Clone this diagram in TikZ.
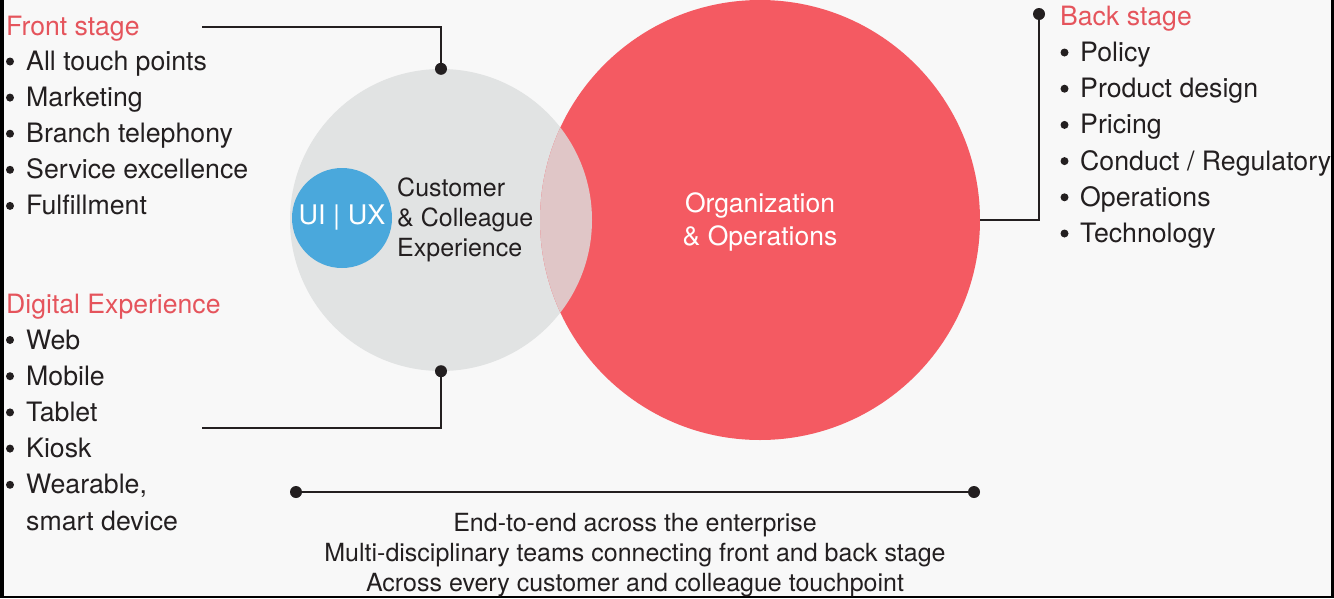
\documentclass[tikz,border=0pt]{standalone}
\usepackage{fontspec}
\setmainfont{TeX Gyre Heros}
\usetikzlibrary{positioning}

\definecolor{bgcol}{HTML}{F8F8F8}
\definecolor{ringcol}{HTML}{E1E3E3}
\definecolor{orgcol}{HTML}{F45A62}
\definecolor{overcol}{HTML}{E0C6C7}
\definecolor{uxcol}{HTML}{4AA8DC}
\definecolor{headcol}{HTML}{E5545C}
\definecolor{inkcol}{HTML}{231F20}

\begin{document}
\begin{tikzpicture}[x=1pt,y=-1pt,
    wire/.style={draw=inkcol,line width=2.2pt},
    head/.style={anchor=base west,inner sep=0pt,text=headcol,font=\fontsize{26.6}{32}\selectfont},
    item/.style={anchor=base west,inner sep=0pt,text=inkcol,font=\fontsize{26.7}{32}\selectfont}]
    % frame and background
    \fill[black] (0,0) rectangle (1334,598);
    \fill[bgcol] (4,0) rectangle (1331,596);
    \useasboundingbox (0,0) rectangle (1334,598);

    % circles
    \node[circle,fill=ringcol,minimum size=302pt,inner sep=0pt] (cx) at (441,220) {};
    \node[circle,fill=orgcol,minimum size=440pt,inner sep=0pt] (org) at (760,220) {};
    \begin{scope}
        \clip (cx.center) circle (151pt);
        \fill[overcol] (org.center) circle (220pt);
    \end{scope}
    \node[align=center,text=white,font=\fontsize{26.5}{33}\selectfont] (orgtext) at (760,222) {Organization\\\& Operations};
    \node[circle,fill=uxcol,minimum size=100pt,inner sep=0pt,text=white,font=\fontsize{27}{32}\selectfont] (ux) at (342,218) {UI | UX};
    \node[anchor=west,align=left,inner sep=0pt,text=inkcol,font=\fontsize{25}{30}\selectfont] (cce) at (397,219.6) {Customer\\\& Colleague\\Experience};

    % front stage
    \node[head] (fs) at (6,35) {Front stage};
    \foreach \t [count=\i] in {All touch points, Marketing, Branch telephony, Service excellence, Fulfillment}{
        \node[item] (front\i) at (26,{70.5+36.1*(\i-1)}) {\t};
        \fill[inkcol] (front\i.base west) ++(-16pt,9pt) circle (4pt);
    }

    % digital experience
    \node[head] (dx) at (6,313) {Digital Experience};
    \foreach \t [count=\i] in {Web, Mobile, Tablet, Kiosk, {Wearable,}}{
        \node[item] (dig\i) at (26,{349+36.2*(\i-1)}) {\t};
        \fill[inkcol] (dig\i.base west) ++(-16pt,9pt) circle (4pt);
    }
    \node[item] (dig6) at (26,530) {smart device};

    % back stage
    \node[head] (bs) at (1060,25) {Back stage};
    \foreach \t [count=\i] in {Policy, Product design, Pricing, Conduct / Regulatory, Operations, Technology}{
        \node[item] (back\i) at (1080,{61.5+36.2*(\i-1)}) {\t};
        \fill[inkcol] (back\i.base west) ++(-15.5pt,9pt) circle (4pt);
    }

    % connectors
    \coordinate (fsl) at (202,27);
    \coordinate (dxl) at (202,428);
    \coordinate (bsd) at (1039,14);
    \coordinate (spanl) at (296,492);
    \coordinate (spanr) at (974,492);
    \draw[wire] (fsl) -| (cx.north);
    \draw[wire] (dxl) -| (cx.south);
    \draw[wire] (org.east) -| (bsd);
    \draw[wire] (spanl) -- (spanr);
    \foreach \p in {cx.north, cx.south, bsd, spanl, spanr}
        \fill[inkcol] (\p) circle (6pt);

    \node[align=center,text=inkcol,font=\fontsize{25}{30}\selectfont] (span) at (635,555.5) {End-to-end across the enterprise\\Multi-disciplinary teams connecting front and back stage\\Across every customer and colleague touchpoint};
\end{tikzpicture}
\end{document}
